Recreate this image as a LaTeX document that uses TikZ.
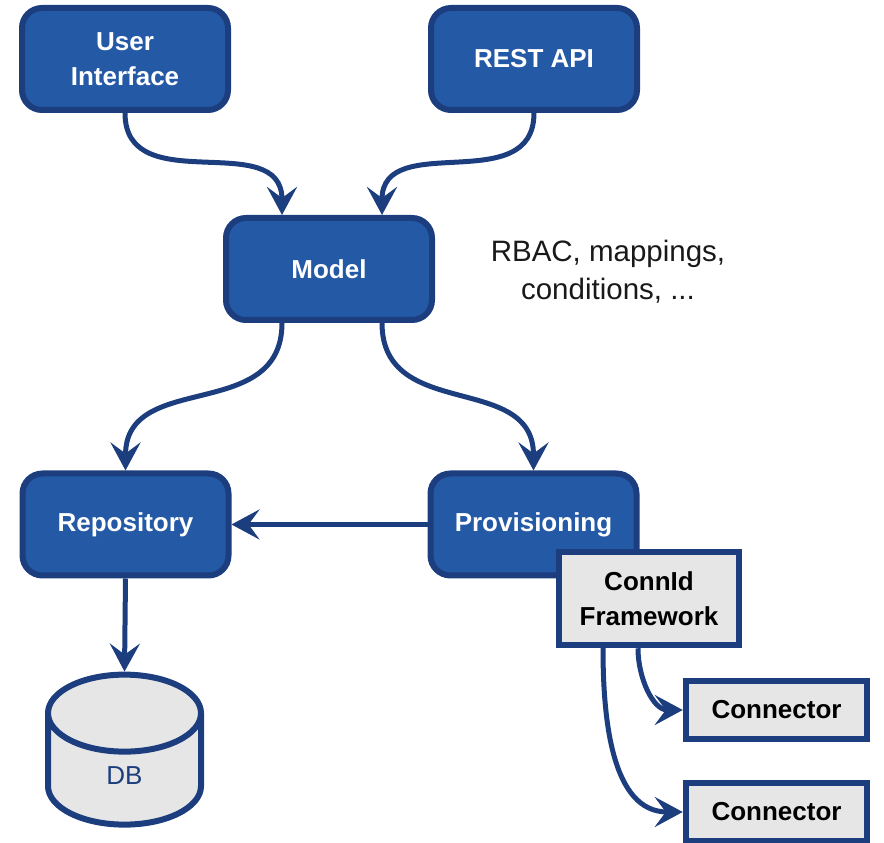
\documentclass[tikz,border=0pt]{standalone}
\usepackage{fontspec}
\setmainfont{Liberation Sans}
\usepackage{xcolor}
\usepackage{tikz}
\usetikzlibrary{arrows.meta, shapes.geometric}

\definecolor{modblue}{RGB}{36,89,165}
\definecolor{modline}{RGB}{28,62,126}
\definecolor{modgrey}{RGB}{230,230,230}
\definecolor{notetext}{RGB}{25,25,25}

\tikzset{
	bluebox/.style = {draw = modline, fill = modblue, line width = 6pt, rounded corners = 20pt, minimum width = 206pt, minimum height = 102pt, align = center, text = white, font = \fontsize{26}{35}\selectfont\bfseries},
	greybox/.style = {draw = modline, fill = modgrey, line width = 6.5pt, align = center, text = black, font = \fontsize{26}{35}\selectfont\bfseries},
	flow/.style = {draw = modline, line width = 5pt, -{Stealth[length = 28pt, width = 30pt, inset = 11pt]}}
}

\begin{document}
\begin{tikzpicture}[x = 1pt, y = 1pt]
	\useasboundingbox (0,0) rectangle (884,843);

	\begin{scope}
		\node[bluebox] (ui) at (125,784) {User\\Interface};
		\node[bluebox] (rest) at (534,784) {REST API};
		\node[bluebox] (model) at (329,574) {Model};
		\node[bluebox] (repo) at (125.5,318.5) {Repository};
		\node[bluebox] (prov) at (533.5,318.5) {Provisioning};
		\node[greybox, minimum width = 180pt, minimum height = 93pt] (connid) at (649,244.5) {ConnId\\Framework};
		\foreach \n/\y in {1/133, 2/31}
		{
			\node[greybox, minimum width = 181pt, minimum height = 58pt] (conn\n) at (776.5,\y) {Connector};
		}
		\node[cylinder, shape border rotate = 90, aspect = 1.8, draw = modline, fill = modgrey, line width = 6pt, minimum width = 153pt, minimum height = 150pt, text = modline, font = \fontsize{26}{35}\selectfont] (db) at (124.5,67) {DB};
		\node[align = center, text = notetext, font = \fontsize{29.5}{38}\selectfont] (rbac) at (608,571) {RBAC, mappings,\\conditions, ...};
	\end{scope}

	\begin{scope}[flow]
		\draw (ui.south) to[out = -90, in = 90, looseness = 1.2] ([xshift = -47pt]model.north);
		\draw (rest.south) to[out = -90, in = 90, looseness = 1.2] ([xshift = 53pt]model.north);
		\draw ([xshift = -47pt]model.south) to[out = -90, in = 90, looseness = 1.2] (repo.north);
		\draw ([xshift = 53pt]model.south) to[out = -90, in = 90, looseness = 1.2] (prov.north);
		\draw (prov.west) -- (repo.east);
		\draw (repo.south) -- (db.north);
		\draw ([xshift = -11pt]connid.south) to[out = -90, in = 180] (conn1.west);
		\draw ([xshift = -46pt]connid.south) to[out = -90, in = 180] (conn2.west);
	\end{scope}
\end{tikzpicture}
\end{document}
